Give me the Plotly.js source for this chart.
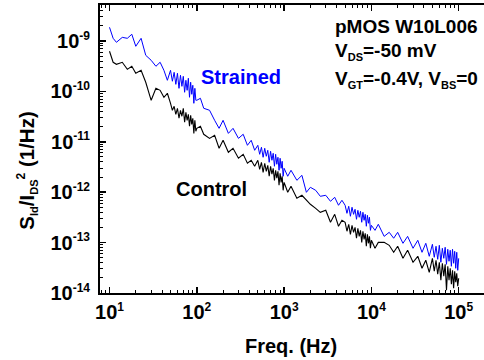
<!DOCTYPE html>
<html>
<head>
<meta charset="utf-8">
<script src="https://cdn.plot.ly/plotly-3.0.1.min.js"></script>
<style>html,body{margin:0;padding:0;background:#fff;}#chart{width:484px;height:360px;}</style>
</head>
<body>
<div id="chart"></div>
<script>
// Frequency (Hz)
const freq = [
10,11,12,14,16,18,20,23,26,30,34,38,42,46,50,52.5,55,57.5,60,62.5,65,67.5,70,72.5,75,77.5,80,82.5,85,87.5,90,92.5,95,97.5,
100,110,120,140,160,180,200,230,260,300,340,380,420,460,500,525,550,575,600,625,650,675,700,725,750,775,800,825,850,875,900,925,950,975,
1000,1100,1200,1400,1600,1800,2000,2300,2600,3000,3400,3800,4200,4600,5000,5250,5500,5750,6000,6250,6500,6750,7000,7250,7500,7750,8000,8250,8500,8750,9000,9250,9500,9750,
10000,11000,12000,14000,16000,18000,20000,23000,26000,30000,34000,38000,42000,46000,50000,52500,55000,57500,60000,62500,65000,67500,70000,72500,75000,77500,80000,82500,85000,87500,90000,92500,95000,97500,
100000];

// S_Id / I_DS^2 (1/Hz), Strained device
const sStrained = [
1.87e-9,1.13e-9,9.42e-10,1.18e-9,1.13e-9,1.36e-9,7.85e-10,1.13e-9,5.20e-10,4.14e-10,3.15e-10,3.78e-10,2.62e-10,1.66e-10,
2.62e-10,1.59e-10,2.39e-10,1.38e-10,2.29e-10,1.15e-10,2.09e-10,1.26e-10,1.99e-10,9.60e-11,1.66e-10,1.05e-10,1.82e-10,7.64e-11,1.52e-10,8.76e-11,1.32e-10,5.80e-11,1.15e-10,6.66e-11,
6.66e-11,7.30e-11,4.62e-11,4.22e-11,2.67e-11,1.85e-11,2.67e-11,1.47e-11,1.85e-11,1.17e-11,1.41e-11,8.52e-12,1.07e-11,6.78e-12,
8.52e-12,5.65e-12,7.78e-12,4.93e-12,7.43e-12,5.16e-12,6.78e-12,3.92e-12,6.48e-12,4.30e-12,5.91e-12,3.27e-12,5.65e-12,3.58e-12,4.93e-12,2.72e-12,4.71e-12,2.98e-12,4.10e-12,2.07e-12,
2.98e-12,2.07e-12,2.72e-12,1.72e-12,2.16e-12,9.95e-13,1.25e-12,1.09e-12,8.29e-13,8.68e-13,6.60e-13,7.92e-13,5.50e-13,6.91e-13,
5.50e-13,3.81e-13,5.25e-13,3.33e-13,5.02e-13,3.64e-13,4.58e-13,2.90e-13,4.37e-13,3.18e-13,4.18e-13,2.53e-13,3.99e-13,2.77e-13,3.64e-13,2.11e-13,3.48e-13,2.42e-13,3.18e-13,1.75e-13,
2.20e-13,1.75e-13,2.31e-13,1.33e-13,1.60e-13,1.22e-13,1.60e-13,9.68e-14,1.33e-13,7.71e-14,1.11e-13,6.42e-14,9.68e-14,5.35e-14,
9.25e-14,5.11e-14,8.45e-14,4.66e-14,8.84e-14,4.07e-14,7.71e-14,4.88e-14,8.07e-14,3.71e-14,7.36e-14,4.26e-14,7.04e-14,3.39e-14,7.36e-14,3.89e-14,6.72e-14,3.09e-14,6.42e-14,2.82e-14,
4.88e-14];

// S_Id / I_DS^2 (1/Hz), Control device
const sControl = [
6.25e-10,3.78e-10,3.45e-10,3.78e-10,2.74e-10,3.15e-10,2.29e-10,2.62e-10,1.52e-10,6.66e-11,1.15e-10,1.05e-10,7.64e-11,9.17e-11,
5.80e-11,4.22e-11,5.06e-11,3.51e-11,4.62e-11,2.93e-11,4.22e-11,3.21e-11,4.62e-11,2.44e-11,3.85e-11,2.67e-11,3.51e-11,2.03e-11,3.36e-11,2.22e-11,2.93e-11,1.47e-11,2.67e-11,1.62e-11,
1.85e-11,2.03e-11,1.41e-11,1.17e-11,1.35e-11,7.43e-12,1.07e-11,6.19e-12,7.43e-12,4.71e-12,5.65e-12,3.75e-12,4.30e-12,3.27e-12,
4.30e-12,2.85e-12,3.92e-12,2.48e-12,3.75e-12,2.60e-12,3.42e-12,2.07e-12,3.27e-12,2.27e-12,2.98e-12,1.72e-12,2.72e-12,1.89e-12,2.60e-12,1.37e-12,2.37e-12,1.57e-12,2.07e-12,1.09e-12,
1.57e-12,9.95e-13,1.31e-12,7.57e-13,8.68e-13,6.91e-13,5.75e-13,4.79e-13,3.99e-13,4.37e-13,2.53e-13,3.64e-13,2.11e-13,2.77e-13,
2.53e-13,1.68e-13,2.31e-13,1.46e-13,2.20e-13,1.60e-13,2.01e-13,1.22e-13,1.92e-13,1.33e-13,1.75e-13,1.01e-13,1.68e-13,1.16e-13,1.53e-13,8.45e-14,1.46e-13,9.68e-14,1.33e-13,7.71e-14,
1.11e-13,7.71e-14,1.01e-13,1.01e-13,8.84e-14,6.42e-14,8.45e-14,4.88e-14,7.04e-14,4.07e-14,5.35e-14,3.09e-14,4.46e-14,2.57e-14,
4.88e-14,2.70e-14,4.46e-14,2.35e-14,4.07e-14,1.79e-14,3.89e-14,2.15e-14,3.71e-14,1.13e-14,3.39e-14,1.79e-14,3.09e-14,1.49e-14,2.82e-14,1.24e-14,2.70e-14,1.63e-14,2.46e-14,1.36e-14,
1.96e-14];

// Tick values and labels
const xTickVals = [10,100,1000,10000,100000];
const xTickExp = ['1','2','3','4','5'];
const xMinorVals = [8,9,20,30,40,50,60,70,80,90,200,300,400,500,600,700,800,900,2000,3000,4000,5000,6000,7000,8000,9000,20000,30000,40000,50000,60000,70000,80000,90000,200000];
const yTickVals = [1e-14,1e-13,1e-12,1e-11,1e-10,1e-9];
const yTickExp = ['-14','-13','-12','-11','-10','-9'];
const yMinorVals = [2e-14,3e-14,4e-14,5e-14,6e-14,7e-14,8e-14,9e-14,2e-13,3e-13,4e-13,5e-13,6e-13,7e-13,8e-13,9e-13,2e-12,3e-12,4e-12,5e-12,6e-12,7e-12,8e-12,9e-12,2e-11,3e-11,4e-11,5e-11,6e-11,7e-11,8e-11,9e-11,2e-10,3e-10,4e-10,5e-10,6e-10,7e-10,8e-10,9e-10,2e-9,3e-9,4e-9,5e-9];

const FONT = 'Liberation Sans, Arial, Helvetica, sans-serif';
const pow10 = e => '<b>10<sup><span style="font-size:12px">' + e + '</span></sup></b>';
const sub = (t, s) => '<sub><span style="font-size:' + s + 'px">' + t + '</span></sub>';

const traces = [
  {x: freq, y: sStrained, type: 'scatter', mode: 'lines', name: 'Strained', line: {color: '#0000ff', width: 1}},
  {x: freq, y: sControl, type: 'scatter', mode: 'lines', name: 'Control', line: {color: '#000000', width: 1.1}}
];

const layout = {
  width: 484, height: 360,
  margin: {l: 100, r: 0, t: 5, b: 67},
  paper_bgcolor: '#ffffff', plot_bgcolor: '#ffffff',
  showlegend: false,
  font: {family: FONT, color: '#000'},
  xaxis: {
    type: 'log', range: [0.891, 5.29],
    showline: true, linecolor: '#000', linewidth: 2, mirror: 'ticks',
    showgrid: false, zeroline: false,
    ticks: 'inside', ticklen: 6, tickwidth: 1.5, tickcolor: '#000',
    tickmode: 'array', tickvals: xTickVals, ticktext: xTickExp.map(pow10),
    tickfont: {family: FONT, size: 20, color: '#000'},
    minor: {ticks: 'inside', ticklen: 3, tickwidth: 1, tickcolor: '#000', tickmode: 'array', tickvals: xMinorVals, showgrid: false}
  },
  yaxis: {
    type: 'log', range: [-14, -8.286],
    showline: true, linecolor: '#000', linewidth: 2, mirror: false,
    showgrid: false, zeroline: false,
    ticks: 'inside', ticklen: 6, tickwidth: 1.5, tickcolor: '#000',
    tickmode: 'array', tickvals: yTickVals, ticktext: yTickExp.map(pow10),
    tickfont: {family: FONT, size: 20, color: '#000'},
    ticklabelstandoff: 4,
    minor: {ticks: 'inside', ticklen: 3, tickwidth: 1, tickcolor: '#000', tickmode: 'array', tickvals: yMinorVals, showgrid: false}
  },
  annotations: [
    {xref: 'paper', yref: 'paper', x: 0.497, y: -0.183, text: '<b>Freq. (Hz)</b>', showarrow: false, xanchor: 'center', yanchor: 'middle', font: {family: FONT, size: 20, color: '#000'}},
    {xref: 'paper', yref: 'paper', x: -0.19, y: 0.425, text: '<b>S' + sub('Id', 11) + '/I' + sub('DS', 11) + '<sup><span style="font-size:12px">2</span></sup> (1/Hz)</b>', textangle: -90, showarrow: false, xanchor: 'center', yanchor: 'middle', font: {family: FONT, size: 20.5, color: '#000'}},
    {xref: 'paper', yref: 'paper', x: 0.607, y: 0.927, text: '<b>pMOS W10L006</b>', showarrow: false, xanchor: 'left', yanchor: 'middle', font: {family: FONT, size: 19, color: '#000'}},
    {xref: 'paper', yref: 'paper', x: 0.607, y: 0.838, text: '<b>V' + sub('DS', 11) + '=-50 mV</b>', showarrow: false, xanchor: 'left', yanchor: 'middle', font: {family: FONT, size: 19, color: '#000'}},
    {xref: 'paper', yref: 'paper', x: 0.607, y: 0.74, text: '<b>V' + sub('GT', 11) + '=-0.4V, V' + sub('BS', 11) + '=0</b>', showarrow: false, xanchor: 'left', yanchor: 'middle', font: {family: FONT, size: 19, color: '#000'}},
    {xref: 'paper', yref: 'paper', x: 0.367, y: 0.75, text: '<b>Strained</b>', showarrow: false, xanchor: 'center', yanchor: 'middle', font: {family: FONT, size: 20, color: '#0000ff'}},
    {xref: 'paper', yref: 'paper', x: 0.290, y: 0.361, text: '<b>Control</b>', showarrow: false, xanchor: 'center', yanchor: 'middle', font: {family: FONT, size: 20, color: '#000'}}
  ]
};

Plotly.newPlot('chart', traces, layout, {displayModeBar: false, staticPlot: true});
</script>
</body>
</html>
